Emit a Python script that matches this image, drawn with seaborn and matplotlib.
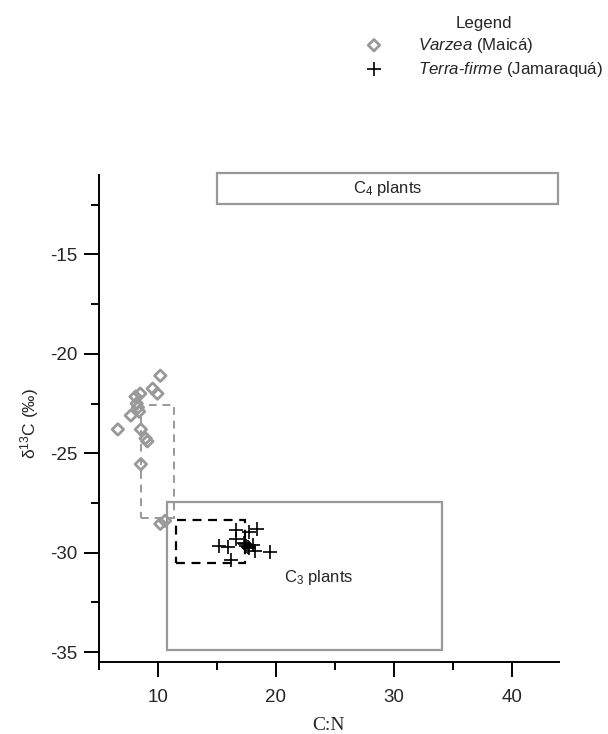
import matplotlib
matplotlib.use("Agg")
import matplotlib.pyplot as plt
import seaborn as sns
import pandas as pd
from matplotlib.patches import Rectangle
from matplotlib.ticker import MultipleLocator

# ---- data ----
varzea_cn = [10.2, 9.55, 9.95, 8.1, 8.5, 8.2, 7.7, 8.4, 8.3, 6.6, 8.55, 8.95, 9.1, 8.55, 10.2, 10.6]
varzea_d13c = [-21.1, -21.75, -22.0, -22.15, -22.0, -22.5, -23.1, -22.9, -22.7, -23.8, -23.8, -24.25, -24.4, -25.55, -28.55, -28.4]

terra_cn = [16.6, 17.7, 18.4, 16.6, 15.2, 15.9, 17.3, 17.5, 17.7, 18.1, 18.2, 19.5, 16.2, 17.4, 17.6]
terra_d13c = [-28.85, -28.95, -28.8, -29.3, -29.65, -29.7, -29.5, -29.65, -29.75, -29.6, -29.9, -29.95, -30.35, -29.55, -29.7]

# ranges (x0, x1, y0, y1)
c4_range = [15.0, 43.9, -12.45, -10.92]
c3_range = [10.8, 34.1, -34.9, -27.45]
varzea_range = [8.6, 11.35, -28.25, -22.55]
terra_range = [11.55, 17.35, -30.5, -28.35]

x_major = [10, 20, 30, 40]
y_major = [-35, -30, -25, -20, -15]

sns.set_style("ticks")
plt.rcParams["font.family"] = ["Liberation Sans", "DejaVu Sans"]
plt.rcParams["mathtext.fontset"] = "custom"
plt.rcParams["mathtext.rm"] = "Liberation Sans"
plt.rcParams["mathtext.it"] = "Liberation Sans:italic"
plt.rcParams["axes.unicode_minus"] = False

fig = plt.figure(figsize=(6.08, 7.34), dpi=100)
ax = fig.add_axes([0.1628, 0.0981, 0.7566, 0.6635])

gray = "#999999"
df_v = pd.DataFrame({"cn": varzea_cn, "d13c": varzea_d13c})
df_t = pd.DataFrame({"cn": terra_cn, "d13c": terra_d13c})

sns.scatterplot(data=df_v, x="cn", y="d13c", ax=ax, marker="D", s=34,
                facecolor="none", edgecolor=gray, linewidth=2.0,
                label=r"$\it{Varzea}$ (Maicá)", zorder=4, clip_on=False)
sns.scatterplot(data=df_t, x="cn", y="d13c", ax=ax, marker="+", s=110,
                color="black", linewidth=1.2,
                label=r"$\it{Terra}$-$\it{firme}$ (Jamaraquá)", zorder=5, clip_on=False)

def box(r, **kw):
    ax.add_patch(Rectangle((r[0], r[2]), r[1] - r[0], r[3] - r[2], fill=False,
                           clip_on=False, **kw))

box(c4_range, edgecolor=gray, linewidth=1.6, zorder=2)
box(c3_range, edgecolor=gray, linewidth=1.6, zorder=2)
box(varzea_range, edgecolor=gray, linewidth=1.4, linestyle=(0, (4, 3)), zorder=3)
box(terra_range, edgecolor="black", linewidth=1.6, linestyle=(0, (4, 3)), zorder=3)

ax.text((c4_range[0] + c4_range[1]) / 2, (c4_range[2] + c4_range[3]) / 2,
        r"C$_4$ plants", ha="center", va="center", fontsize=12)
ax.text(23.6, -31.25, r"C$_3$ plants", ha="center", va="center", fontsize=12)

ax.set_xlim(5, 44)
ax.set_ylim(-35.5, -11)
ax.set_xticks(x_major)
ax.set_yticks(y_major)
ax.xaxis.set_minor_locator(MultipleLocator(5))
ax.yaxis.set_minor_locator(MultipleLocator(2.5))
ax.tick_params(which="major", length=10.8, width=1.4, labelsize=13.5, direction="out", color="black")
ax.tick_params(axis="x", which="major", pad=8.5)
ax.tick_params(axis="y", which="major", pad=5)
ax.tick_params(which="minor", length=5.5, width=1.4, direction="out", color="black")
for s in ["top", "right"]:
    ax.spines[s].set_visible(False)
for s in ["left", "bottom"]:
    ax.spines[s].set_linewidth(1.4)
    ax.spines[s].set_color("black")

ax.set_xlabel("C:N", fontsize=14, family=["Liberation Serif"])
ax.set_ylabel(r"δ$^{13}$C (‰)", fontsize=12.5)
ax.xaxis.set_label_coords(0.498, -0.113)
ax.yaxis.set_label_coords(-0.127, 0.49)

if ax.legend_:
    ax.legend_.remove()
handles, labels = ax.get_legend_handles_labels()
leg = fig.legend(handles, labels, title="Legend", loc="upper left",
                 bbox_to_anchor=(0.59, 0.988), frameon=False, fontsize=12.2,
                 title_fontsize=12.2, handletextpad=2.1, handlelength=1.0,
                 labelspacing=0.3, borderaxespad=0)

fig.savefig("out.png", dpi=100)
